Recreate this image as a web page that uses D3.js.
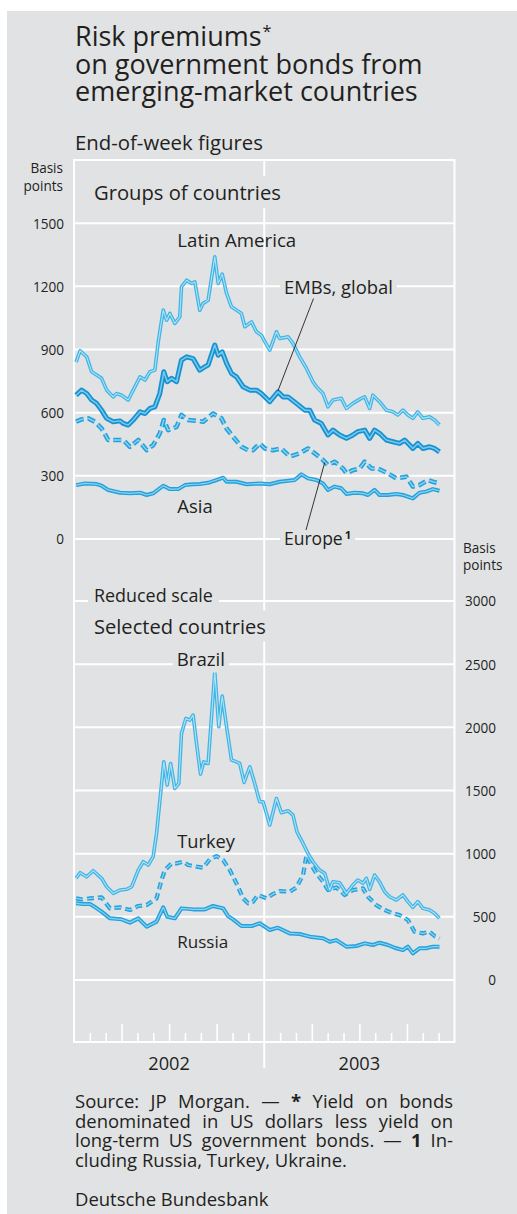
<!DOCTYPE html>
<html><head><meta charset="utf-8">
<script src="https://cdn.jsdelivr.net/npm/d3@7"></script>
<style>
body{margin:0;background:#fff}
svg{display:block}
text{font-family:"Open Sans","Noto Sans",sans-serif;fill:#231f20}
</style>
</head><body>
<svg id="c" width="517" height="1214"></svg>
<script>
// ---------- DATA (decimal year, basis points) ----------
const years = [2002, 2003];
const upperTicks = [0, 300, 600, 900, 1200, 1500];
const lowerTicks = [0, 500, 1000, 1500, 2000, 2500, 3000];

const latinAmerica = [[2002.011,840],[2002.032,894],[2002.067,865],[2002.093,794],[2002.145,763],[2002.172,707],[2002.206,675],[2002.224,691],[2002.250,683],[2002.285,660],[2002.311,707],[2002.347,770],[2002.373,755],[2002.399,794],[2002.425,802],[2002.443,937],[2002.469,1087],[2002.487,1039],[2002.504,1071],[2002.530,1024],[2002.556,1055],[2002.565,1197],[2002.592,1229],[2002.618,1214],[2002.635,1221],[2002.661,1087],[2002.679,1119],[2002.705,1134],[2002.740,1340],[2002.758,1214],[2002.779,1258],[2002.802,1166],[2002.828,1103],[2002.854,1087],[2002.880,1071],[2002.898,1008],[2002.933,1031],[2002.959,984],[2002.985,968],[2003.003,937],[2003.029,897],[2003.064,984],[2003.081,952],[2003.125,960],[2003.151,929],[2003.186,865],[2003.222,810],[2003.256,747],[2003.274,723],[2003.309,691],[2003.335,628],[2003.361,660],[2003.405,668],[2003.432,620],[2003.466,644],[2003.510,668],[2003.528,675],[2003.554,620],[2003.571,683],[2003.606,652],[2003.642,612],[2003.676,604],[2003.702,589],[2003.729,612],[2003.755,589],[2003.781,573],[2003.807,604],[2003.834,573],[2003.869,580],[2003.895,565],[2003.921,541]];

const embsGlobal = [[2002.011,683],[2002.040,707],[2002.067,691],[2002.093,660],[2002.119,644],[2002.145,612],[2002.172,573],[2002.206,557],[2002.242,561],[2002.259,549],[2002.285,541],[2002.311,565],[2002.347,604],[2002.373,596],[2002.399,620],[2002.425,628],[2002.451,691],[2002.472,794],[2002.490,747],[2002.513,763],[2002.539,747],[2002.565,850],[2002.592,865],[2002.626,857],[2002.661,802],[2002.688,818],[2002.705,826],[2002.740,921],[2002.758,873],[2002.779,889],[2002.802,834],[2002.828,786],[2002.854,770],[2002.889,723],[2002.924,707],[2002.959,707],[2002.985,691],[2003.029,652],[2003.072,699],[2003.099,675],[2003.125,675],[2003.169,644],[2003.213,612],[2003.239,612],[2003.265,565],[2003.300,549],[2003.335,494],[2003.361,517],[2003.396,494],[2003.432,478],[2003.466,494],[2003.492,510],[2003.528,517],[2003.554,478],[2003.580,517],[2003.606,502],[2003.642,470],[2003.676,462],[2003.711,454],[2003.738,470],[2003.764,446],[2003.781,430],[2003.807,454],[2003.834,430],[2003.869,438],[2003.895,430],[2003.921,414]];

const europe = [[2002.011,557],[2002.040,568],[2002.075,573],[2002.110,557],[2002.145,525],[2002.180,470],[2002.224,470],[2002.259,470],[2002.294,438],[2002.338,470],[2002.382,422],[2002.416,446],[2002.451,502],[2002.472,565],[2002.495,517],[2002.539,533],[2002.565,589],[2002.600,565],[2002.644,561],[2002.679,557],[2002.731,596],[2002.775,573],[2002.802,525],[2002.836,486],[2002.880,438],[2002.915,422],[2002.941,422],[2002.976,454],[2003.003,430],[2003.046,422],[2003.090,430],[2003.134,391],[2003.186,407],[2003.230,430],[2003.265,407],[2003.309,375],[2003.335,351],[2003.370,367],[2003.414,335],[2003.432,312],[2003.466,327],[2003.501,335],[2003.528,367],[2003.563,335],[2003.597,335],[2003.650,312],[2003.694,288],[2003.747,296],[2003.781,249],[2003.816,256],[2003.861,280],[2003.886,272],[2003.921,264]];

const asia = [[2002.011,256],[2002.058,264],[2002.119,261],[2002.145,253],[2002.180,233],[2002.242,220],[2002.294,217],[2002.347,220],[2002.382,209],[2002.416,217],[2002.469,253],[2002.504,237],[2002.548,237],[2002.583,256],[2002.626,260],[2002.661,261],[2002.705,267],[2002.749,280],[2002.784,291],[2002.802,272],[2002.854,272],[2002.907,260],[2002.976,264],[2003.029,260],[2003.081,272],[2003.160,280],[2003.195,307],[2003.230,288],[2003.274,280],[2003.309,264],[2003.335,233],[2003.370,249],[2003.405,241],[2003.432,214],[2003.475,220],[2003.519,217],[2003.545,209],[2003.580,233],[2003.606,209],[2003.650,209],[2003.694,214],[2003.729,209],[2003.781,193],[2003.816,220],[2003.851,225],[2003.886,237],[2003.921,229]];

const brazil = [[2002.011,805],[2002.032,849],[2002.067,817],[2002.101,865],[2002.145,805],[2002.172,738],[2002.206,686],[2002.242,712],[2002.277,718],[2002.303,738],[2002.338,870],[2002.364,936],[2002.390,910],[2002.416,976],[2002.434,1160],[2002.472,1727],[2002.490,1543],[2002.508,1714],[2002.530,1517],[2002.551,1556],[2002.565,1952],[2002.588,2070],[2002.609,2057],[2002.626,2097],[2002.644,1873],[2002.665,1630],[2002.682,1727],[2002.705,1714],[2002.740,2439],[2002.761,2005],[2002.779,2247],[2002.802,2005],[2002.828,1741],[2002.854,1727],[2002.871,1714],[2002.894,1564],[2002.924,1688],[2002.950,1556],[2002.976,1411],[2002.994,1411],[2003.029,1226],[2003.064,1437],[2003.090,1324],[2003.125,1340],[2003.151,1305],[2003.172,1173],[2003.204,1081],[2003.230,1002],[2003.256,936],[2003.291,870],[2003.318,844],[2003.344,712],[2003.361,778],[2003.396,770],[2003.432,686],[2003.466,752],[2003.492,791],[2003.519,765],[2003.537,805],[2003.554,718],[2003.580,831],[2003.606,778],[2003.633,699],[2003.659,659],[2003.694,633],[2003.729,673],[2003.755,620],[2003.781,575],[2003.807,620],[2003.834,567],[2003.869,554],[2003.895,528],[2003.921,488]];

const turkey = [[2002.011,646],[2002.040,638],[2002.084,646],[2002.145,654],[2002.189,567],[2002.242,575],[2002.294,554],[2002.338,586],[2002.382,593],[2002.434,646],[2002.460,791],[2002.478,870],[2002.513,923],[2002.539,923],[2002.574,936],[2002.600,910],[2002.644,897],[2002.679,889],[2002.714,955],[2002.749,981],[2002.784,949],[2002.819,870],[2002.854,765],[2002.889,646],[2002.915,607],[2002.941,620],[2002.968,673],[2003.012,646],[2003.046,680],[2003.081,704],[2003.134,699],[2003.169,733],[2003.204,831],[2003.222,989],[2003.248,910],[2003.274,844],[2003.309,778],[2003.335,712],[2003.379,733],[2003.423,673],[2003.466,712],[2003.519,725],[2003.545,659],[2003.589,593],[2003.633,554],[2003.676,528],[2003.711,514],[2003.755,475],[2003.790,382],[2003.834,369],[2003.869,382],[2003.895,348],[2003.921,330]];

const russia = [[2002.011,607],[2002.049,601],[2002.084,601],[2002.101,586],[2002.145,541],[2002.189,488],[2002.250,480],[2002.294,454],[2002.338,488],[2002.382,422],[2002.434,462],[2002.469,575],[2002.490,501],[2002.530,488],[2002.565,567],[2002.626,559],[2002.688,559],[2002.731,586],[2002.784,567],[2002.810,506],[2002.836,480],[2002.880,427],[2002.933,427],[2002.976,449],[2003.029,396],[2003.072,414],[2003.134,369],[2003.186,364],[2003.239,343],[2003.309,330],[2003.344,303],[2003.379,316],[2003.432,264],[2003.484,269],[2003.528,290],[2003.571,277],[2003.606,295],[2003.650,277],[2003.694,251],[2003.729,237],[2003.755,264],[2003.781,211],[2003.816,251],[2003.851,251],[2003.886,264],[2003.921,264]];

// ---------- LAYOUT ----------
const W = 517, H = 1214;
const BG = "#e1e2e4";
const svg = d3.select("#c");
svg.append("rect").attr("x", 7).attr("y", 11).attr("width", W - 7).attr("height", H - 11).attr("fill", BG);

const x = d3.scaleLinear().domain([2002, 2004]).range([74, 454.5]);
const yU = d3.scaleLinear().domain([0, 1800]).range([539, 160]);
const yL = d3.scaleLinear().domain([0, 3000]).range([980, 601]);
const frameTop = yU(1800), frameBottom = 1042;
const [x0, x1] = x.range();

function measure(str, fs) {
  const t = svg.append("text").attr("font-size", fs).text(str);
  const L = t.node().getComputedTextLength();
  t.remove();
  return L;
}
function fitSize(str, width) { return 20 * width / measure(str, 20); }
function addText(g, tx, ty, str, width, anchor) {
  const t = g.append("text").attr("x", tx).attr("y", ty).text(str).attr("font-size", fitSize(str, width));
  if (anchor) t.attr("text-anchor", anchor);
  return t;
}
function boxBehind(g, t, padX = 5, padY = 2) {
  const b = t.node().getBBox();
  g.insert("rect", () => t.node())
    .attr("x", b.x - padX).attr("y", b.y - padY)
    .attr("width", b.width + 2 * padX).attr("height", b.height + 2 * padY)
    .attr("fill", BG);
}

// Title (one text block, three lines)
const titleLines = ["Risk premiums", "on government bonds from", "emerging-market countries"];
const titleWidths = [187, 347, 343];
const fsTitle = d3.mean(titleLines, (s, i) => fitSize(s, titleWidths[i]));
const gT = svg.append("g");
const tt = gT.append("text").attr("font-size", fsTitle);
[46, 73.5, 101].forEach((yy, i) => {
  tt.append("tspan").attr("x", 75).attr("y", yy).text(titleLines[i]);
  if (i === 0) tt.append("tspan").attr("dx", 1).attr("dy", -9).attr("font-size", fsTitle * 0.6).text("*");
});
addText(gT, 75, 149.5, "End-of-week figures", 188);

// Grid
const gGrid = svg.append("g").attr("stroke", "#fff").attr("stroke-width", 2);
upperTicks.forEach(v => gGrid.append("line").attr("x1", x0).attr("x2", x1).attr("y1", yU(v)).attr("y2", yU(v)));
lowerTicks.forEach(v => gGrid.append("line").attr("x1", x0).attr("x2", x1).attr("y1", yL(v)).attr("y2", yL(v)));
gGrid.append("line").attr("x1", x0).attr("x2", x1).attr("y1", frameTop).attr("y2", frameTop);
gGrid.append("line").attr("x1", x0).attr("x2", x1).attr("y1", frameBottom).attr("y2", frameBottom);
gGrid.append("line").attr("x1", x0).attr("x2", x0).attr("y1", frameTop - 1).attr("y2", frameBottom + 1);
gGrid.append("line").attr("x1", x1).attr("x2", x1).attr("y1", frameTop - 1).attr("y2", frameBottom + 1);
gGrid.append("line").attr("x1", x(2003)).attr("x2", x(2003)).attr("y1", frameTop).attr("y2", 1068);

// month ticks
const months = d3.range(1, 24).filter(i => i !== 12).map(i => 2002 + i / 12);
const minor = months.filter(d => Math.round((d - 2002) * 12) % 3 !== 0);
const major = months.filter(d => Math.round((d - 2002) * 12) % 3 === 0);
[[minor, 9], [major, 18]].forEach(([vals, len]) => {
  const ax = svg.append("g").attr("transform", `translate(0,${frameBottom})`)
    .call(d3.axisBottom(x).tickValues(vals).tickSize(-len).tickFormat(""));
  ax.select(".domain").remove();
  ax.selectAll("line").attr("stroke", "#fff").attr("stroke-width", 1.6);
});

// Year labels
const gY = svg.append("g");
years.forEach(yv => addText(gY, x(yv + 0.5), 1070, String(yv), 41.7, "middle"));

// Axis labels
const fsTick = fitSize("1500", 31);
const axL = svg.append("g").attr("transform", `translate(${x0},0)`)
  .call(d3.axisLeft(yU).tickValues(upperTicks).tickSize(0).tickPadding(10).tickFormat(d3.format("d")));
axL.select(".domain").remove();
axL.attr("font-family", null);
axL.selectAll("text").attr("font-size", fsTick).attr("fill", "#231f20").attr("dy", "0.36em");

const axR = svg.append("g").attr("transform", `translate(${x1},0)`)
  .call(d3.axisRight(yL).tickValues(lowerTicks).tickSize(0).tickFormat(d3.format("d")));
axR.select(".domain").remove();
axR.attr("font-family", null);
axR.selectAll("text").attr("font-size", fsTick).attr("fill", "#231f20").attr("text-anchor", "end").attr("x", 496 - x1).attr("dy", "0.36em");

const gU = svg.append("g");
const bpL = gU.append("text").attr("text-anchor", "end").attr("font-size", fsTick);
bpL.append("tspan").attr("x", 63).attr("y", 173).text("Basis");
bpL.append("tspan").attr("x", 63).attr("y", 190.5).text("points");
const bpR = gU.append("text").attr("font-size", fsTick);
bpR.append("tspan").attr("x", 463).attr("y", 552.5).text("Basis");
bpR.append("tspan").attr("x", 463).attr("y", 570).text("points");

// ---------- SERIES ----------
const gS = svg.append("g").attr("fill", "none").attr("stroke-linejoin", "round");
function drawSeries(data, yScale, st) {
  const line = d3.line().x(d => x(d[0])).y(d => yScale(d[1]));
  const d = line(data);
  gS.append("path").attr("d", d).attr("stroke", st.outer).attr("stroke-width", st.w).attr("stroke-dasharray", st.dash || null);
  gS.append("path").attr("d", d).attr("stroke", st.inner).attr("stroke-width", st.w * 0.3).attr("stroke-dasharray", st.dash || null);
}
const light = { outer: "#3fb5e6", inner: "#b3e2f6", w: 3.6 };
const mid = { outer: "#22a2dc", inner: "#8fd2f1", w: 4 };
const dark = { outer: "#1592d1", inner: "#7cc8ec", w: 5 };
drawSeries(asia, yU, mid);
drawSeries(europe, yU, Object.assign({}, mid, { w: 4.6, dash: "8,4" }));
drawSeries(embsGlobal, yU, dark);
drawSeries(latinAmerica, yU, light);
drawSeries(russia, yL, mid);
drawSeries(turkey, yL, Object.assign({}, mid, { w: 4.2, dash: "7,4" }));
drawSeries(brazil, yL, light);

// ---------- LABELS ----------
const gL = svg.append("g");
const lbGroups = addText(gL, 94, 200, "Groups of countries", 187); boxBehind(gL, lbGroups);
addText(gL, 177.3, 246.5, "Latin America", 119);
const lbEmb = addText(gL, 284, 294, "EMBs, global", 109); boxBehind(gL, lbEmb, 4);
addText(gL, 177.3, 513, "Asia", 35.4);
const lbEu = addText(gL, 284, 545, "Europe", 58.7);
lbEu.append("tspan").attr("dx", 2).attr("dy", -6).attr("font-size", +lbEu.attr("font-size") * 0.65).attr("font-weight", "bold").text("1");
boxBehind(gL, lbEu, 4);
const lbRed = addText(gL, 94, 601.5, "Reduced scale", 119); boxBehind(gL, lbRed, 6);
const lbSel = addText(gL, 94, 633.5, "Selected countries", 172); boxBehind(gL, lbSel, 3);
const lbBr = addText(gL, 176.7, 665.5, "Brazil", 48.3); boxBehind(gL, lbBr, 4);
addText(gL, 177.3, 848, "Turkey", 57.7);
addText(gL, 177.3, 948, "Russia", 51);

// leader lines
const gLead = svg.append("g").attr("stroke", "#231f20").attr("stroke-width", 0.9);
gLead.append("line").attr("x1", 313.5).attr("y1", 298.5).attr("x2", x(2003.072)).attr("y2", yU(699) - 1);
gLead.append("line").attr("x1", 306).attr("y1", 530).attr("x2", x(2003.318)).attr("y2", yU(368) + 1);

// ---------- FOOTNOTE (one text block) ----------
const fsF = fitSize("cluding Russia, Turkey, Ukraine.", 272);
const footLines = [
  { y: 1108, parts: [{ t: "Source: JP Morgan. — " }, { t: "*", b: true }, { t: " Yield on bonds" }], just: true },
  { y: 1127.5, parts: [{ t: "denominated in US dollars less yield on" }], just: true },
  { y: 1147, parts: [{ t: "long-term US government bonds. — " }, { t: "1", b: true }, { t: " In-" }], just: true },
  { y: 1166.5, parts: [{ t: "cluding Russia, Turkey, Ukraine." }] },
  { y: 1205.5, parts: [{ t: "Deutsche Bundesbank" }] }
];
const ft = svg.append("text").attr("font-size", fsF).attr("xml:space", "preserve");
footLines.forEach(ln => {
  const lineT = ft.append("tspan").attr("x", 75).attr("y", ln.y);
  ln.parts.forEach(p => {
    const s = lineT.append("tspan").text(p.t);
    if (p.b) s.attr("font-weight", "bold");
  });
  if (ln.just) {
    const L = lineT.node().getComputedTextLength();
    const nSp = (ln.parts.map(p => p.t).join("").match(/ /g) || []).length;
    lineT.attr("word-spacing", (378 - L) / nSp);
  }
});
</script>
</body></html>
